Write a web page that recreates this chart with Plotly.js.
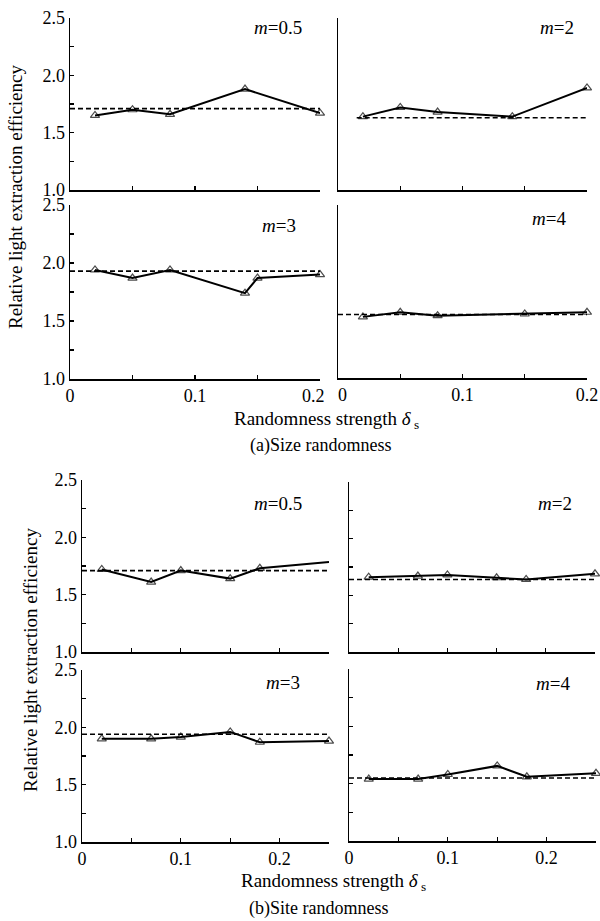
<!DOCTYPE html>
<html>
<head>
<meta charset="utf-8">
<script src="https://cdn.plot.ly/plotly-3.0.1.min.js"></script>
<style>html,body{margin:0;padding:0;background:#fff;}#chart{width:600px;height:921px;}</style>
</head>
<body>
<div id="chart"></div>
<script>
// ---- data ----
// (a) Size randomness
const aM05_x = [0.02, 0.05, 0.08, 0.14, 0.2];
const aM05_y = [1.65, 1.70, 1.66, 1.88, 1.67];
const aM05_ref = 1.71;
const aM2_x = [0.02, 0.05, 0.08, 0.14, 0.2];
const aM2_y = [1.64, 1.72, 1.68, 1.64, 1.89];
const aM2_ref = 1.63;
const aM3_x = [0.02, 0.05, 0.08, 0.14, 0.15, 0.2];
const aM3_y = [1.94, 1.87, 1.94, 1.74, 1.87, 1.90];
const aM3_ref = 1.93;
const aM4_x = [0.02, 0.05, 0.08, 0.15, 0.2];
const aM4_y = [1.53, 1.57, 1.54, 1.555, 1.57];
const aM4_ref = 1.55;
// (b) Site randomness
const bM05_x = [0.02, 0.07, 0.1, 0.15, 0.18, 0.25];
const bM05_y = [1.72, 1.61, 1.71, 1.64, 1.73, 1.785];
const bM05_ref = 1.71;
const bM2_x = [0.02, 0.07, 0.1, 0.15, 0.18, 0.25];
const bM2_y = [1.66, 1.67, 1.68, 1.655, 1.64, 1.69];
const bM2_ref = 1.64;
const bM3_x = [0.02, 0.07, 0.1, 0.15, 0.18, 0.25];
const bM3_y = [1.90, 1.90, 1.915, 1.96, 1.87, 1.88];
const bM3_ref = 1.94;
const bM4_x = [0.02, 0.07, 0.1, 0.15, 0.18, 0.25];
const bM4_y = [1.54, 1.54, 1.58, 1.655, 1.56, 1.59];
const bM4_ref = 1.55;

const yTickVals = [1.0, 1.25, 1.5, 1.75, 2.0, 2.25, 2.5];
const yTickText = ["1.0", "", "1.5", "", "2.0", "", "2.5"];
const xTickValsA = [0, 0.05, 0.1, 0.15, 0.2];
const xTickTextALeft = ["0", "", "0.1", "", "0.2\u00a0\u00a0\u00a0"];
const xTickTextARight = ["\u00a0\u00a00", "", "0.1", "", "0.2"];
const xTickValsB = [0, 0.05, 0.1, 0.15, 0.2, 0.25];
const xTickTextB = ["0", "", "0.1", "", "0.2", ""];
const panelLabels = ["<i>m</i>=0.5", "<i>m</i>=2", "<i>m</i>=3", "<i>m</i>=4",
                     "<i>m</i>=0.5", "<i>m</i>=2", "<i>m</i>=3", "<i>m</i>=4"];
const xTitle = "Randomness strength <i>δ</i><sub> s</sub>";
const yTitle = "Relative light extraction efficiency";
const captionA = "(a)Size randomness";
const captionB = "(b)Site randomness";

// ---- layout helpers ----
const W = 600, H = 921;
const FONT = "Liberation Serif, Times New Roman, serif";
function dx(a, b) { return [a / W, b / W]; }
function dy(top, bot) { return [1 - bot / H, 1 - top / H]; }

// panel boxes [left, right, top, bottom] in px
const boxes = [
  [70, 320, 18, 190], [338, 587, 18, 190],
  [70, 320, 205, 379], [338, 587, 205, 378],
  [82, 329, 480, 652], [349, 595, 482, 652],
  [82, 329, 670, 842], [349, 596, 669, 841]
];
const series = [
  [aM05_x, aM05_y, aM05_ref, 0, 0.2],
  [aM2_x, aM2_y, aM2_ref, 0.015, 0.2],
  [aM3_x, aM3_y, aM3_ref, 0, 0.2],
  [aM4_x, aM4_y, aM4_ref, 0, 0.2],
  [bM05_x, bM05_y, bM05_ref, 0, 0.25],
  [bM2_x, bM2_y, bM2_ref, 0, 0.25],
  [bM3_x, bM3_y, bM3_ref, 0, 0.25],
  [bM4_x, bM4_y, bM4_ref, 0, 0.25]
];
const xTickTexts = [xTickTextALeft, xTickTextARight, xTickTextALeft, xTickTextARight,
                    xTickTextB, xTickTextB, xTickTextB, xTickTextB];
const labelPos = [[278, 27], [557, 27], [279, 225], [549, 218],
                  [278, 503], [555, 503], [283, 682], [553, 683]];

const traces = [];
const layout = {
  width: W, height: H,
  margin: {l: 0, r: 0, t: 0, b: 0},
  paper_bgcolor: "#fff", plot_bgcolor: "rgba(0,0,0,0)",
  showlegend: false,
  font: {family: FONT, size: 18, color: "#000"},
  annotations: []
};

for (let i = 0; i < 8; i++) {
  const n = i + 1;
  const xa = "x" + (n === 1 ? "" : n), ya = "y" + (n === 1 ? "" : n);
  const xk = "xaxis" + (n === 1 ? "" : n), yk = "yaxis" + (n === 1 ? "" : n);
  const [xs, ys, ref, refStart, xmax] = series[i];
  const b = boxes[i];
  const isA = i < 4;
  const isLeft = i % 2 === 0;
  const isBottomRow = (i === 2 || i === 3 || i === 6 || i === 7);

  // reference dashed line
  traces.push({
    x: [refStart, xmax], y: [ref, ref], xaxis: xa, yaxis: ya,
    mode: "lines", line: {color: "#000", width: 1.6, dash: "5px,3px"},
    hoverinfo: "skip"
  });
  // data
  const sizes = xs.map((v) => (i === 4 && v >= 0.25) ? 0 : 8);
  traces.push({
    x: xs, y: ys, xaxis: xa, yaxis: ya,
    mode: "lines+markers",
    line: {color: "#000", width: 2},
    marker: {symbol: "triangle-up-open", size: sizes, color: "#000", line: {width: 1.2, color: "#000"}},
    cliponaxis: false
  });

  layout[xk] = {
    domain: dx(b[0], b[1]), anchor: ya,
    range: [0, xmax], showgrid: false, zeroline: false,
    showline: true, linecolor: "#000", linewidth: 1.5,
    ticks: "inside", ticklen: 4, tickwidth: 1.2, tickcolor: "#000",
    tickmode: "array",
    tickvals: isA ? xTickValsA : xTickValsB,
    ticktext: xTickTexts[i],
    showticklabels: isBottomRow,
    tickfont: {family: FONT, size: 18, color: "#000"},
    fixedrange: true
  };
  layout[yk] = {
    domain: dy(b[2], b[3]), anchor: xa,
    range: [1, 2.5], showgrid: false, zeroline: false,
    showline: true, linecolor: "#000", linewidth: 1.5,
    ticks: (isA && !isLeft) ? "" : "inside", ticklen: 4, tickwidth: 1.2, tickcolor: "#000",
    tickmode: "array", tickvals: yTickVals, ticktext: yTickText,
    showticklabels: isLeft,
    tickfont: {family: FONT, size: 18, color: "#000"},
    fixedrange: true
  };

  layout.annotations.push({
    xref: "paper", yref: "paper",
    x: labelPos[i][0] / W, y: 1 - labelPos[i][1] / H,
    xanchor: "center", yanchor: "middle", showarrow: false,
    text: panelLabels[i], font: {family: FONT, size: 19, color: "#000"}
  });
}

const texts = [
  [xTitle, 326, 420, 0, 19],
  [captionA, 320, 445, 0, 18],
  [xTitle, 333, 882, 0, 19],
  [captionB, 318, 908, 0, 18],
  [yTitle, 16, 197, -90, 19],
  [yTitle, 30, 660, -90, 19]
];
texts.forEach((t) => {
  layout.annotations.push({
    xref: "paper", yref: "paper", x: t[1] / W, y: 1 - t[2] / H,
    xanchor: "center", yanchor: "middle", showarrow: false,
    text: t[0], textangle: t[3], font: {family: FONT, size: t[4], color: "#000"}
  });
});

Plotly.newPlot("chart", traces, layout, {staticPlot: true, displayModeBar: false});
</script>
</body>
</html>
